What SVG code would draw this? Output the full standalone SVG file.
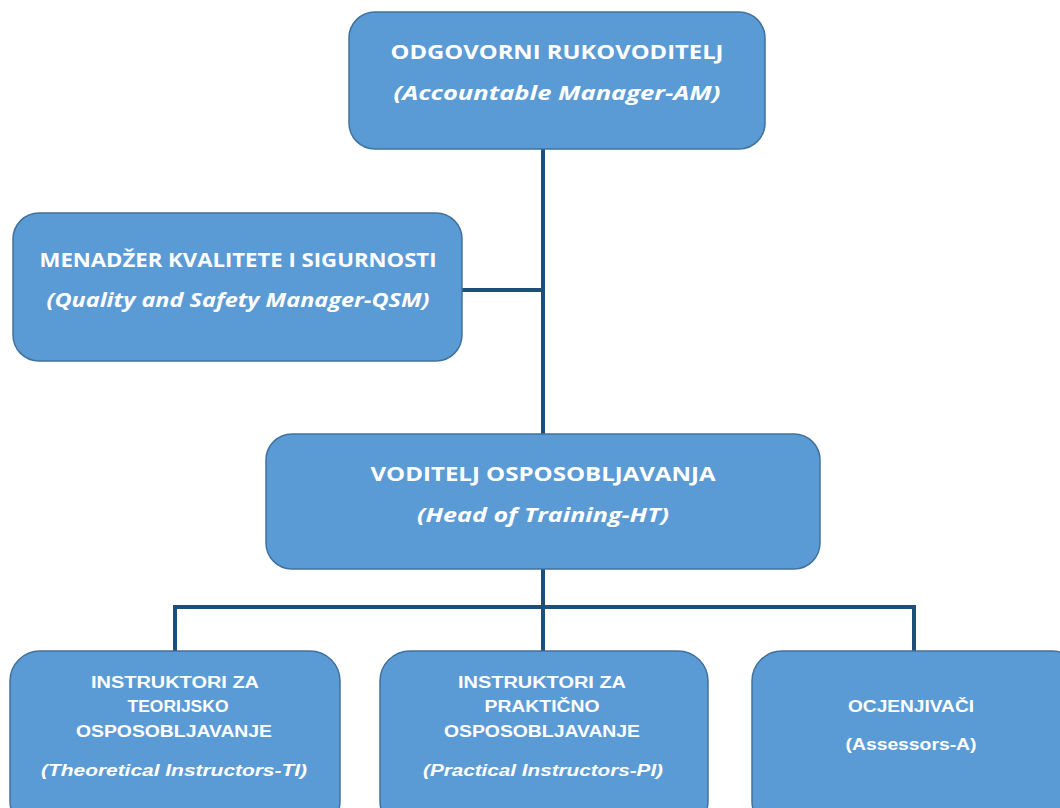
<svg xmlns="http://www.w3.org/2000/svg" width="1060" height="808" viewBox="0 0 1060 808">
<style>
.box{fill:#5B9BD5;stroke:#41719C;stroke-width:1.5}
.t{fill:#fff;font-family:"Open Sans","DejaVu Sans",sans-serif;font-weight:bold;text-anchor:middle}
.h{font-size:19px}
.s{font-size:20px;font-style:italic}
.c{font-family:"Liberation Sans",Arial,sans-serif;font-size:16px}
.ci{font-family:"Liberation Sans",Arial,sans-serif;font-size:16px;font-style:italic}
.ln{fill:none;stroke:#1F4E79;stroke-width:4}
</style>
<rect width="1060" height="808" fill="#fff"/>
<g id="connectors">
<path class="ln" d="M543 149V434M462 290H543M543 569V651M175 607H914M175 605V651M914 605V651"/>
</g>
<g id="am">
<rect class="box" x="349" y="12" width="416" height="137" rx="26"/>
<text class="t h" x="557" y="59" textLength="333" lengthAdjust="spacingAndGlyphs">ODGOVORNI RUKOVODITELJ</text>
<text class="t s" x="557" y="100" textLength="327" lengthAdjust="spacingAndGlyphs">(Accountable Manager-AM)</text>
</g>
<g id="qsm">
<rect class="box" x="13" y="213" width="449" height="148" rx="26"/>
<text class="t h" x="238" y="267" textLength="397" lengthAdjust="spacingAndGlyphs">MENADŽER KVALITETE I SIGURNOSTI</text>
<text class="t s" x="238" y="307" textLength="383" lengthAdjust="spacingAndGlyphs">(Quality and Safety Manager-QSM)</text>
</g>
<g id="ht">
<rect class="box" x="266" y="434" width="554" height="135" rx="26"/>
<text class="t h" x="543" y="481" textLength="345" lengthAdjust="spacingAndGlyphs">VODITELJ OSPOSOBLJAVANJA</text>
<text class="t s" x="543" y="522" textLength="252" lengthAdjust="spacingAndGlyphs">(Head of Training-HT)</text>
</g>
<g id="ti">
<rect class="box" x="10" y="651" width="330" height="180" rx="30"/>
<text class="t c" x="175" y="688" textLength="168" lengthAdjust="spacingAndGlyphs">INSTRUKTORI ZA</text>
<text class="t c" x="178" y="712" textLength="101" lengthAdjust="spacingAndGlyphs">TEORIJSKO</text>
<text class="t c" x="174" y="737" textLength="196" lengthAdjust="spacingAndGlyphs">OSPOSOBLJAVANJE</text>
<text class="t ci" x="174" y="776" textLength="266" lengthAdjust="spacingAndGlyphs">(Theoretical Instructors-TI)</text>
</g>
<g id="pi">
<rect class="box" x="380" y="651" width="328" height="180" rx="30"/>
<text class="t c" x="542" y="688" textLength="168" lengthAdjust="spacingAndGlyphs">INSTRUKTORI ZA</text>
<text class="t c" x="542" y="712" textLength="115" lengthAdjust="spacingAndGlyphs">PRAKTIČNO</text>
<text class="t c" x="542" y="737" textLength="196" lengthAdjust="spacingAndGlyphs">OSPOSOBLJAVANJE</text>
<text class="t ci" x="543" y="776" textLength="240" lengthAdjust="spacingAndGlyphs">(Practical Instructors-PI)</text>
</g>
<g id="a">
<rect class="box" x="752" y="651" width="330" height="180" rx="30"/>
<text class="t c" x="911" y="712" textLength="126" lengthAdjust="spacingAndGlyphs">OCJENJIVAČI</text>
<text class="t c" x="911" y="750" textLength="131" lengthAdjust="spacingAndGlyphs">(Assessors-A)</text>
</g>
</svg>
